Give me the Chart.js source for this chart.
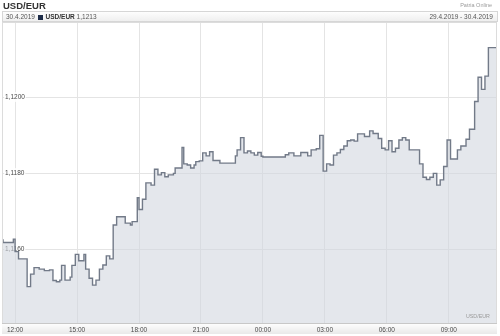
<!DOCTYPE html>
<html>
<head>
<meta charset="utf-8">
<script src="https://cdn.jsdelivr.net/npm/chart.js@4.4.1/dist/chart.umd.min.js"></script>
<style>
  html, body { margin:0; padding:0; background:#fff; }
  #wrap { position:relative; width:500px; height:336px; overflow:hidden; font-family:"Liberation Sans", Arial, sans-serif; }
  #c { position:absolute; left:0; top:0; }
  #title { position:absolute; left:3px; top:0px; font-size:9.5px; font-weight:bold; color:#333; line-height:11px; }
  #src { position:absolute; right:8px; top:2px; font-size:5.5px; color:#9a9a9a; line-height:7px; }
  #hdr { position:absolute; left:2px; top:11px; width:494px; height:9px; border:1px solid #d6d6d6;
         background:linear-gradient(#fdfdfd,#efefef); font-size:6.5px; line-height:9px; color:#555; }
  #hdrL { position:absolute; left:3px; top:0; white-space:nowrap; }
  #hdrR { position:absolute; right:4px; top:0; white-space:nowrap; }
  .sq { display:inline-block; width:5px; height:5px; background:#1d2c48; vertical-align:-0.5px; margin:0 1px; }
  .b { font-weight:bold; color:#333; }
  #wm { position:absolute; left:466px; top:313px; font-size:5.3px; color:#9a9a9a; line-height:7px; }
</style>
</head>
<body>
<div id="wrap">
  <canvas id="c" width="500" height="336"></canvas>
  <div id="title">USD/EUR</div>
  <div id="src">Patria Online</div>
  <div id="hdr">
    <span id="hdrL">30.4.2019 <span class="sq"></span> <span class="b">USD/EUR</span> 1,1213</span>
    <span id="hdrR">29.4.2019 - 30.4.2019</span>
  </div>
  <div id="wm">USD/EUR</div>
</div>
<script>
// ---- data ----
const times = [
 "04-29 11:20","04-29 11:25","04-29 11:55","04-29 12:00","04-29 12:10","04-29 12:35","04-29 12:45","04-29 12:55",
 "04-29 13:10","04-29 13:25","04-29 13:40","04-29 13:50","04-29 14:00","04-29 14:10","04-29 14:15","04-29 14:25",
 "04-29 14:40","04-29 14:45","04-29 14:55","04-29 15:05","04-29 15:20","04-29 15:25","04-29 15:35","04-29 15:45",
 "04-29 15:55","04-29 16:05","04-29 16:15","04-29 16:25","04-29 16:35","04-29 16:45","04-29 16:55","04-29 17:20",
 "04-29 17:35","04-29 17:40","04-29 17:55","04-29 18:00","04-29 18:10","04-29 18:20","04-29 18:35","04-29 18:45",
 "04-29 18:55","04-29 19:05","04-29 19:15","04-29 19:25","04-29 19:40","04-29 19:45","04-29 20:05","04-29 20:10",
 "04-29 20:20","04-29 20:30","04-29 20:40","04-29 20:45","04-29 20:55","04-29 21:05","04-29 21:15","04-29 21:25",
 "04-29 21:35","04-29 21:55","04-29 22:40","04-29 22:45","04-29 22:55","04-29 23:05","04-29 23:15","04-29 23:25",
 "04-29 23:35","04-29 23:45","04-29 23:55","04-30 00:00","04-30 01:05","04-30 01:15","04-30 01:30","04-30 01:50",
 "04-30 02:10","04-30 02:20","04-30 02:35","04-30 02:45","04-30 02:55","04-30 03:05","04-30 03:15","04-30 03:25",
 "04-30 03:35","04-30 03:45","04-30 03:55","04-30 04:05","04-30 04:15","04-30 04:25","04-30 04:35","04-30 04:55",
 "04-30 05:10","04-30 05:20","04-30 05:35","04-30 05:45","04-30 05:55","04-30 06:05","04-30 06:15","04-30 06:25",
 "04-30 06:35","04-30 06:45","04-30 06:55","04-30 07:05","04-30 07:35","04-30 07:45","04-30 07:55","04-30 08:05",
 "04-30 08:15","04-30 08:25","04-30 08:35","04-30 08:45","04-30 08:55","04-30 09:05","04-30 09:25","04-30 09:35",
 "04-30 09:50","04-30 10:00","04-30 10:15","04-30 10:25","04-30 10:35","04-30 10:45","04-30 10:55","04-30 11:05",
 "04-30 11:20"
];
const rates = [
 1.11652,1.11624,1.11617,1.11626,1.11593,1.11574,1.11501,1.11534,
 1.11551,1.11547,1.11543,1.11545,1.11517,1.11514,1.11518,1.11557,
 1.11518,1.11526,1.11557,1.11586,1.11569,1.11586,1.11547,1.11523,
 1.11505,1.11518,1.11547,1.11558,1.11582,1.11574,1.11663,1.11685,
 1.11668,1.11663,1.11672,1.11735,1.11704,1.11731,1.11774,1.11768,
 1.11810,1.11795,1.11801,1.11790,1.11795,1.11799,1.11813,1.11867,
 1.11824,1.11821,1.11813,1.11821,1.11830,1.11832,1.11853,1.11845,
 1.11856,1.11833,1.11826,1.11845,1.11861,1.11893,1.11853,1.11858,
 1.11853,1.11847,1.11854,1.11844,1.11842,1.11848,1.11853,1.11845,
 1.11854,1.11845,1.11861,1.11864,1.11899,1.11805,1.11824,1.11821,
 1.11847,1.11853,1.11862,1.11871,1.11885,1.11887,1.11884,1.11903,
 1.11896,1.11911,1.11904,1.11891,1.11865,1.11861,1.11885,1.11856,
 1.11865,1.11887,1.11893,1.11887,1.11861,1.11824,1.11789,1.11783,
 1.11789,1.11799,1.11768,1.11782,1.11817,1.11887,1.11837,1.11861,
 1.11871,1.11889,1.11915,1.11988,1.12052,1.12020,1.12055,1.12130,
 1.12130
];
const xTickTimes = ["04-29 12:00","04-29 15:00","04-29 18:00","04-29 21:00","04-30 00:00","04-30 03:00","04-30 06:00","04-30 09:00"];
const xTickLabels = ["12:00","15:00","18:00","21:00","00:00","03:00","06:00","09:00"];
const yTicks = [1.1160, 1.1180, 1.1200];

// ---- helpers ----
function toMin(s){ // minutes since 29.4. 12:00
  const d = parseInt(s.slice(3,5),10), h = parseInt(s.slice(6,8),10), m = parseInt(s.slice(9,11),10);
  return (d-29)*1440 + h*60 + m - 720;
}
const pts = times.map((t,i)=>({x:toMin(t), y:rates[i]}));
const xTickVals = xTickTimes.map(toMin);

const bgPlugin = {
  id:'bg',
  beforeDraw(chart){
    const {ctx, chartArea:a} = chart;
    ctx.save();
    ctx.fillStyle = '#fff';
    ctx.fillRect(0,0,chart.width,chart.height);
    const g = ctx.createLinearGradient(0,a.bottom,0,a.bottom+11);
    g.addColorStop(0,'#ffffff'); g.addColorStop(1,'#e9e9e9');
    ctx.fillStyle = g;
    ctx.fillRect(a.left, a.bottom, a.right-a.left, 11);
    ctx.restore();
  },
  afterDraw(chart){
    const {ctx, chartArea:a} = chart;
    ctx.save();
    ctx.strokeStyle = '#dcdcdc'; ctx.lineWidth = 1;
    ctx.strokeRect(a.left+0.5, a.top+0.5, a.right-a.left-1, a.bottom-a.top);
    ctx.strokeStyle = '#c8c8c8';
    ctx.beginPath(); ctx.moveTo(a.left, a.bottom+0.5); ctx.lineTo(a.right, a.bottom+0.5); ctx.stroke();
    ctx.restore();
  }
};

new Chart(document.getElementById('c'), {
  type:'line',
  data:{ datasets:[{
    data: pts,
    stepped:'after',
    borderColor:'#727a88',
    borderWidth:1.4,
    backgroundColor:'rgba(210,215,224,0.6)',
    fill:'start',
    pointRadius:0
  }]},
  options:{
    responsive:false, animation:false,
    layout:{ padding:{ top:22, left:2, right:3, bottom:0 } },
    plugins:{ legend:{display:false}, tooltip:{enabled:false} },
    scales:{
      x:{
        type:'linear', min:-38, max:1400,
        afterBuildTicks(s){ s.ticks = xTickVals.map(v=>({value:v})); },
        afterFit(s){ s.height = 13; },
        grid:{ color:'#e4e4e4', drawTicks:false },
        border:{ display:false },
        ticks:{ autoSkip:false, maxRotation:0, padding:3, color:'#4a4a4a',
          font:{ family:'Liberation Sans', size:6.5 },
          callback:(v)=>{ const i = xTickVals.indexOf(v); return i>=0 ? xTickLabels[i] : ''; } }
      },
      y:{
        min:1.114053, max:1.121974,
        afterBuildTicks(s){ s.ticks = yTicks.map(v=>({value:v})); },
        afterFit(s){ s.width = 0; },
        grid:{ color:'#e4e4e4', drawTicks:false },
        border:{ display:false },
        ticks:{ mirror:true, padding:3, color:'#4a4a4a',
          showLabelBackdrop:true, backdropColor:'rgba(255,255,255,0.85)', backdropPadding:1,
          font:{ family:'Liberation Sans', size:6.5 },
          callback:(v)=> v.toFixed(4).replace('.',',') }
      }
    }
  },
  plugins:[bgPlugin]
});
</script>
</body>
</html>
